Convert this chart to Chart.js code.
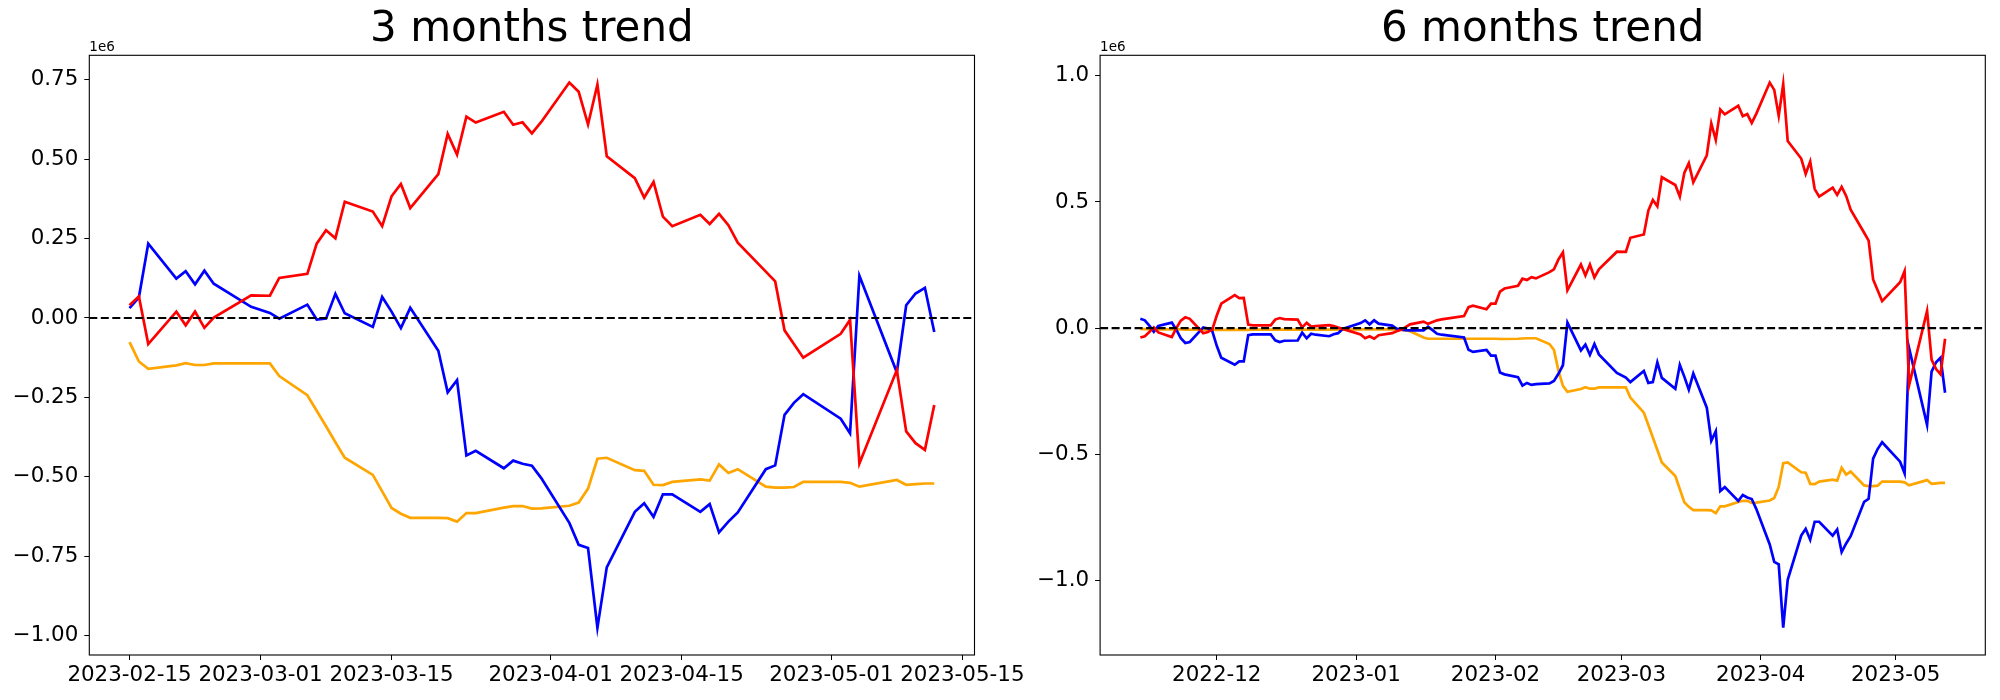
<!DOCTYPE html>
<html>
<head>
<meta charset="utf-8">
<script src="https://cdn.jsdelivr.net/npm/chart.js@4.4.0/dist/chart.umd.min.js"></script>
<style>
  html, body { margin: 0; padding: 0; background: #fff; }
  #wrap { position: relative; width: 2000px; height: 700px; }
  canvas { position: absolute; top: 0; }
  #chart3m { left: 0; }
  #chart6m { left: 1000px; }
</style>
</head>
<body>
<div id="wrap">
  <canvas id="chart3m" width="1060" height="700"></canvas>
  <canvas id="chart6m" width="1000" height="700"></canvas>
</div>
<script>
// values are in millions (axis shows the 1e6 offset)
var dates3m = ['2023-02-15','2023-02-16','2023-02-17','2023-02-20','2023-02-21','2023-02-22','2023-02-23','2023-02-24','2023-02-28',
  '2023-03-02','2023-03-03','2023-03-06','2023-03-07','2023-03-08','2023-03-09','2023-03-10','2023-03-13','2023-03-14','2023-03-15','2023-03-16','2023-03-17',
  '2023-03-20','2023-03-21','2023-03-22','2023-03-23','2023-03-24','2023-03-27','2023-03-28','2023-03-29','2023-03-30','2023-03-31',
  '2023-04-03','2023-04-04','2023-04-05','2023-04-06','2023-04-07','2023-04-10','2023-04-11','2023-04-12','2023-04-13','2023-04-14',
  '2023-04-17','2023-04-18','2023-04-19','2023-04-20','2023-04-21','2023-04-24','2023-04-25','2023-04-26','2023-04-27','2023-04-28',
  '2023-05-02','2023-05-03','2023-05-04','2023-05-08','2023-05-09','2023-05-10','2023-05-11','2023-05-12'];

var red3m = [0.040, 0.068, -0.082, 0.020, -0.023, 0.020, -0.031, 0.001, 0.071,
  0.070, 0.126, 0.139, 0.234, 0.276, 0.251, 0.366, 0.335, 0.289, 0.383, 0.422, 0.346,
  0.453, 0.579, 0.514, 0.634, 0.615, 0.649, 0.608, 0.616, 0.581, 0.617,
  0.741, 0.712, 0.609, 0.735, 0.509, 0.440, 0.379, 0.428, 0.319, 0.289,
  0.325, 0.296, 0.328, 0.292, 0.237, 0.146, 0.115, -0.039, -0.082, -0.125,
  -0.050, -0.006, -0.458, -0.164, -0.357, -0.394, -0.415, -0.274];

var blue3m = [0.031, 0.065, 0.234, 0.124, 0.147, 0.106, 0.149, 0.108, 0.035,
  0.016, -0.002, 0.042, -0.005, -0.002, 0.076, 0.015, -0.028, 0.066, 0.020, -0.032, 0.032,
  -0.103, -0.234, -0.196, -0.433, -0.418, -0.473, -0.449, -0.459, -0.465, -0.504,
  -0.645, -0.714, -0.724, -0.975, -0.785, -0.610, -0.583, -0.626, -0.555, -0.555,
  -0.610, -0.586, -0.675, -0.641, -0.612, -0.476, -0.464, -0.305, -0.267, -0.240,
  -0.317, -0.363, 0.133, -0.171, 0.040, 0.077, 0.095, -0.044];

var orange3m = [-0.076, -0.137, -0.160, -0.149, -0.142, -0.148, -0.148, -0.143, -0.143,
  -0.143, -0.183, -0.243, -0.292, -0.341, -0.391, -0.440, -0.494, -0.546, -0.598, -0.616, -0.629,
  -0.629, -0.630, -0.641, -0.614, -0.614, -0.597, -0.592, -0.592, -0.600, -0.599,
  -0.591, -0.581, -0.537, -0.443, -0.440, -0.479, -0.481, -0.525, -0.526, -0.516,
  -0.508, -0.512, -0.461, -0.488, -0.476, -0.531, -0.534, -0.534, -0.532, -0.516,
  -0.516, -0.519, -0.531, -0.510, -0.525, -0.523, -0.521, -0.521];

var datesEarly6m = ['2022-11-14','2022-11-15','2022-11-16','2022-11-17','2022-11-18','2022-11-21','2022-11-22','2022-11-23','2022-11-24','2022-11-25',
  '2022-11-28','2022-11-29','2022-11-30','2022-12-01','2022-12-02','2022-12-05','2022-12-06','2022-12-07','2022-12-08','2022-12-09',
  '2022-12-12','2022-12-13','2022-12-14','2022-12-15','2022-12-16','2022-12-19','2022-12-20','2022-12-21','2022-12-22','2022-12-23',
  '2022-12-26','2022-12-27','2022-12-28','2022-12-29','2023-01-02','2023-01-03','2023-01-04','2023-01-05','2023-01-06',
  '2023-01-09','2023-01-10','2023-01-11','2023-01-12','2023-01-13','2023-01-16','2023-01-17','2023-01-18','2023-01-19','2023-01-20',
  '2023-01-25','2023-01-26','2023-01-27','2023-01-30','2023-01-31','2023-02-01','2023-02-02','2023-02-03',
  '2023-02-06','2023-02-07','2023-02-08','2023-02-09','2023-02-10','2023-02-13','2023-02-14'];
var dates6m = datesEarly6m.concat(dates3m);

var red6m = [-0.037, -0.032, -0.015, 0.003, -0.017, -0.035, 0.000, 0.030, 0.043, 0.037,
  -0.020, -0.015, -0.006, 0.050, 0.097, 0.131, 0.119, 0.120, 0.014, 0.011,
  0.011, 0.011, 0.034, 0.040, 0.036, 0.034, 0.003, 0.021, 0.006, 0.008,
  0.012, 0.008, 0.002, -0.003, -0.025, -0.040, -0.032, -0.042, -0.028,
  -0.020, -0.012, -0.006, 0.004, 0.015, 0.026, 0.017, 0.024, 0.031, 0.035,
  0.048, 0.083, 0.089, 0.075, 0.097, 0.097, 0.145, 0.157,
  0.168, 0.196, 0.191, 0.202, 0.197, 0.222, 0.233,
  0.272, 0.300, 0.150, 0.252, 0.209, 0.252, 0.201, 0.233, 0.303,
  0.302, 0.358, 0.371, 0.466, 0.508, 0.483, 0.598, 0.567, 0.521, 0.615, 0.654, 0.578,
  0.685, 0.811, 0.746, 0.866, 0.847, 0.881, 0.840, 0.848, 0.813, 0.849,
  0.973, 0.944, 0.841, 0.967, 0.741, 0.672, 0.611, 0.660, 0.551, 0.521,
  0.557, 0.528, 0.560, 0.524, 0.469, 0.378, 0.347, 0.193, 0.150, 0.107,
  0.182, 0.226, -0.226, 0.068, -0.125, -0.162, -0.183, -0.042];

var blue6m = [0.037, 0.031, 0.010, -0.014, 0.009, 0.022, -0.006, -0.040, -0.059, -0.055,
  0.003, -0.001, -0.012, -0.070, -0.117, -0.145, -0.132, -0.132, -0.028, -0.025,
  -0.025, -0.025, -0.048, -0.055, -0.050, -0.049, -0.018, -0.040, -0.022, -0.026,
  -0.032, -0.024, -0.020, -0.003, 0.020, 0.031, 0.015, 0.031, 0.018,
  0.010, -0.002, -0.006, -0.008, -0.009, -0.009, 0.006, -0.008, -0.022, -0.026,
  -0.037, -0.086, -0.094, -0.086, -0.109, -0.109, -0.176, -0.183,
  -0.194, -0.228, -0.217, -0.225, -0.222, -0.219, -0.209,
  -0.181, -0.147, 0.022, -0.088, -0.065, -0.106, -0.063, -0.104, -0.177,
  -0.196, -0.214, -0.170, -0.217, -0.214, -0.136, -0.197, -0.240, -0.146, -0.192, -0.244, -0.180,
  -0.315, -0.446, -0.408, -0.645, -0.630, -0.685, -0.661, -0.671, -0.677, -0.716,
  -0.857, -0.926, -0.936, -1.187, -0.997, -0.822, -0.795, -0.838, -0.767, -0.767,
  -0.822, -0.798, -0.887, -0.853, -0.824, -0.688, -0.676, -0.517, -0.479, -0.452,
  -0.529, -0.575, -0.079, -0.383, -0.172, -0.135, -0.117, -0.256];

var orange6m = [-0.003, -0.004, -0.004, -0.005, -0.005, -0.005, -0.005, -0.005, -0.006, -0.006,
  -0.006, -0.006, -0.006, -0.007, -0.007, -0.007, -0.007, -0.007, -0.007, -0.006,
  -0.006, -0.006, -0.006, -0.006, -0.006, -0.006, -0.006, -0.006, -0.006, -0.006,
  -0.006, -0.006, -0.006, -0.006, -0.005, -0.005, -0.005, -0.005, -0.005,
  -0.005, -0.005, -0.006, -0.009, -0.012, -0.037, -0.042, -0.042, -0.042, -0.042,
  -0.042, -0.042, -0.042, -0.042, -0.042, -0.042, -0.043, -0.043,
  -0.042, -0.041, -0.040, -0.040, -0.040, -0.063, -0.086,
  -0.168, -0.229, -0.252, -0.241, -0.234, -0.240, -0.240, -0.235, -0.235,
  -0.235, -0.275, -0.335, -0.384, -0.433, -0.483, -0.532, -0.586, -0.638, -0.690, -0.708, -0.721,
  -0.721, -0.722, -0.733, -0.706, -0.706, -0.689, -0.684, -0.684, -0.692, -0.691,
  -0.683, -0.673, -0.629, -0.535, -0.532, -0.571, -0.573, -0.617, -0.618, -0.608,
  -0.600, -0.604, -0.553, -0.580, -0.568, -0.623, -0.626, -0.626, -0.624, -0.608,
  -0.608, -0.611, -0.623, -0.602, -0.617, -0.615, -0.613, -0.613];

var xTicks3m = ['2023-02-15','2023-03-01','2023-03-15','2023-04-01','2023-04-15','2023-05-01','2023-05-15'];
var xTicks6m = ['2022-12-01','2023-01-01','2023-02-01','2023-03-01','2023-04-01','2023-05-01'];
var yTicks3m = [-1, -0.75, -0.5, -0.25, 0, 0.25, 0.5, 0.75];
var yTicks6m = [-1, -0.5, 0, 0.5, 1];

Chart.defaults.font.family = 'DejaVu Sans';
Chart.defaults.color = '#000';

function toDay(s) {
    var p = s.split('-');
    return Date.UTC(+p[0], +p[1] - 1, +p[2]) / 864e5;
}

function fmtDay(v, len) {
    return new Date(v * 864e5).toISOString().slice(0, len);
}

function withMargin(lo, hi) {
    var m = (hi - lo) * 0.05;
    return [lo - m, hi + m];
}

// dashed zero line, axes frame and the 1e6 offset label
var axesDecor = {
    id: 'axesDecor',
    afterDatasetsDraw: function(chart) {
        var ctx = chart.ctx, a = chart.chartArea;
        var y0 = chart.scales.y.getPixelForValue(0);
        ctx.save();
        ctx.strokeStyle = '#000';
        ctx.lineWidth = 2.1;
        ctx.setLineDash([8, 3.5]);
        ctx.beginPath();
        ctx.moveTo(a.left, y0);
        ctx.lineTo(a.right, y0);
        ctx.stroke();
        ctx.restore();
    },
    afterDraw: function(chart) {
        var ctx = chart.ctx, a = chart.chartArea;
        ctx.save();
        ctx.strokeStyle = '#000';
        ctx.lineWidth = 1.1;
        ctx.strokeRect(a.left, a.top, a.right - a.left, a.bottom - a.top);
        ctx.fillStyle = '#000';
        ctx.font = '13.5px "DejaVu Sans"';
        ctx.textAlign = 'left';
        ctx.textBaseline = 'alphabetic';
        ctx.fillText('1e6', a.left, a.top - 4);
        ctx.restore();
    }
};

function makeChart(id, title, dates, red, blue, orange, xTicks, xLen, yTicks, yDec, yWidth, padRight) {
    var xs = dates.map(toDay);
    var all = red.concat(blue, orange);
    var xr = withMargin(xs[0], xs[xs.length - 1]);
    var yr = withMargin(Math.min.apply(null, all), Math.max.apply(null, all));
    function pts(vals) {
        return vals.map(function(v, i) { return {x: xs[i], y: v}; });
    }
    function line(vals, color) {
        return {data: pts(vals), borderColor: color, backgroundColor: color, borderWidth: 2.7,
                pointRadius: 0, tension: 0, fill: false};
    }
    return new Chart(document.getElementById(id), {
        type: 'line',
        data: {
            datasets: [line(red, '#ff0000'), line(blue, '#0000ff'), line(orange, '#ffa500')]
        },
        options: {
            responsive: false,
            animation: false,
            devicePixelRatio: 1,
            layout: {padding: {left: 0, right: padRight, top: 0, bottom: 0}},
            plugins: {
                legend: {display: false},
                tooltip: {enabled: false},
                title: {
                    display: true,
                    text: title,
                    fullSize: false,
                    color: '#000',
                    font: {size: 42, weight: 'normal', lineHeight: 1.1},
                    padding: {top: 7, bottom: 2.1}
                }
            },
            scales: {
                x: {
                    type: 'linear',
                    min: xr[0],
                    max: xr[1],
                    grid: {display: true, drawOnChartArea: false, drawTicks: true, tickLength: 5, color: '#000', tickColor: '#000'},
                    border: {display: false},
                    ticks: {
                        autoSkip: false, maxRotation: 0, minRotation: 0, padding: 3,
                        font: {size: 21.4},
                        callback: function(v) { return fmtDay(v, xLen); }
                    },
                    afterBuildTicks: function(s) {
                        s.ticks = xTicks.map(function(d) { return {value: toDay(d)}; });
                    },
                    afterFit: function(s) { s.height = 45; }
                },
                y: {
                    min: yr[0],
                    max: yr[1],
                    grid: {display: true, drawOnChartArea: false, drawTicks: true, tickLength: 5, color: '#000', tickColor: '#000'},
                    border: {display: false},
                    ticks: {
                        padding: 6,
                        font: {size: 21.4},
                        callback: function(v) { return v.toFixed(yDec).replace('-', '\u2212'); }
                    },
                    afterBuildTicks: function(s) {
                        s.ticks = yTicks.map(function(v) { return {value: v}; });
                    },
                    afterFit: function(s) { s.width = yWidth; }
                }
            }
        },
        plugins: [axesDecor]
    });
}

makeChart('chart3m', '3 months trend', dates3m, red3m, blue3m, orange3m, xTicks3m, 10, yTicks3m, 2, 89.3, 85.5);
makeChart('chart6m', '6 months trend', dates6m, red6m, blue6m, orange6m, xTicks6m, 7, yTicks6m, 1, 100.1, 14.7);
</script>
</body>
</html>
